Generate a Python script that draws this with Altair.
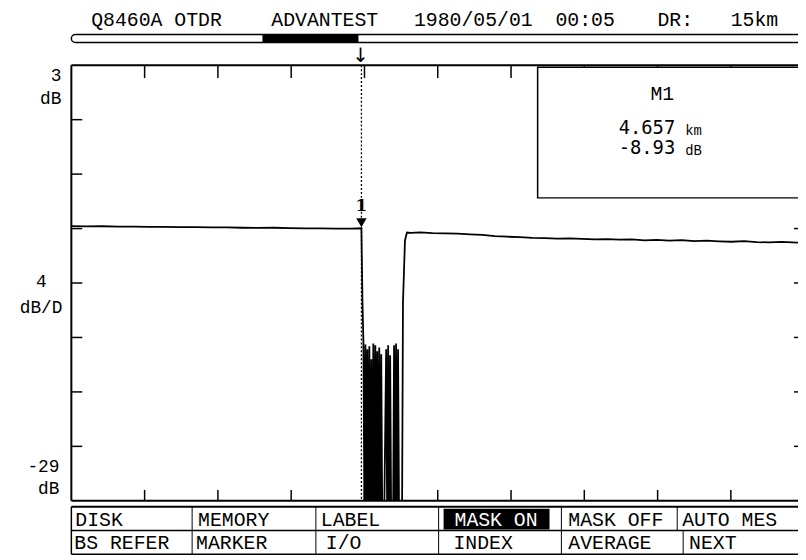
import altair as alt
import pandas as pd

# ---------------- data ----------------
PRE_KM = [0.00, 0.25, 0.50, 0.75, 1.00, 1.25, 1.50, 1.75, 2.00, 2.25, 2.50, 2.75,
          3.00, 3.25, 3.50, 3.75, 4.00, 4.25, 4.50, 4.657]
PRE_DB = [-8.82, -8.84, -8.83, -8.86, -8.85, -8.88, -8.87, -8.90, -8.89, -8.92, -8.91, -8.94,
          -8.95, -8.94, -8.97, -8.99, -8.98, -9.01, -9.00, -8.98]

GAP_KM = [4.673, 4.689, 4.705, 4.721, 4.736, 4.752, 4.768, 4.784, 4.800, 4.816, 4.832,
          4.848, 4.864, 4.880, 4.895, 4.911, 4.927, 4.943, 4.959, 4.975, 4.991, 5.023,
          5.054, 5.070, 5.086, 5.102, 5.118, 5.134, 5.166, 5.181, 5.197, 5.213, 5.229,
          5.245, 5.261, 5.293, 5.309, 5.324, 5.356, 5.388]
GAP_DB = [-14.24, -17.36, -30.0, -17.51, -30.0, -17.87, -30.0, -17.65, -30.0, -18.60, -30.0,
          -17.44, -30.0, -17.58, -30.0, -18.02, -30.0, -17.73, -30.0, -18.24, -30.0, -30.0,
          -17.87, -30.0, -17.58, -30.0, -18.31, -30.0, -30.0, -17.58, -30.0, -17.44, -30.0,
          -17.87, -30.0, -30.0, -30.0, -14.45, -9.87, -9.29]

POST_KM = [5.45, 5.60, 5.80, 6.00, 6.20, 6.40, 6.60, 6.80, 7.00, 7.20, 7.40, 7.60, 7.80,
           8.00, 8.20, 8.40, 8.60, 8.80, 9.00, 9.20, 9.40, 9.60, 9.80, 10.00, 10.20,
           10.40, 10.60, 10.80, 11.00, 11.20, 11.40, 11.67]
POST_DB = [-9.31, -9.28, -9.33, -9.35, -9.38, -9.42, -9.47, -9.55, -9.60, -9.63, -9.68,
           -9.70, -9.74, -9.72, -9.76, -9.80, -9.78, -9.82, -9.80, -9.86, -9.83, -9.88,
           -9.85, -9.92, -9.89, -9.94, -9.97, -9.93, -9.99, -10.02, -9.98, -10.03]

MARKER_KM = [4.657]
MARKER_DB = [-8.93]
MARKER_NAME = ["1"]

X_TICKS_KM = [1.176, 2.353, 3.529, 4.706, 5.882, 7.059, 8.235, 9.412, 10.588]
Y_TICKS_DB = [-25, -21, -17, -13, -9, -5, -1]

HEADER = ["Q8460A OTDR", "ADVANTEST", "1980/05/01", "00:05", "DR:", "15km"]
Y_LABELS = ["3", "dB", "4", "dB/D", "-29", "dB"]
BOX_TEXT = ["M1", "4.657", "km", "-8.93", "dB"]
MENU_ROW1 = ["DISK", "MEMORY", "LABEL", "MASK ON", "MASK OFF", "AUTO MES"]
MENU_ROW2 = ["BS REFER", "MARKER", "I/O", "INDEX", "AVERAGE", "NEXT"]

# ---------------- build ----------------
W, H = 734, 440
MONO = "Liberation Mono"
XS = alt.Scale(domain=[0, 11.666], nice=False, zero=False)
YS = alt.Scale(domain=[-29, 3], nice=False, zero=False)
ONE = pd.DataFrame({"_": [0]})

km = PRE_KM + GAP_KM + POST_KM
db = PRE_DB + GAP_DB + POST_DB
trace_df = pd.DataFrame({"km": km, "db": db, "i": list(range(len(km)))})
marker_df = pd.DataFrame({"km": MARKER_KM, "db": MARKER_DB, "name": MARKER_NAME})

X = lambda: alt.X("km:Q", scale=XS, axis=None)
Y = lambda: alt.Y("db:Q", scale=YS, axis=None)


def rule(x, x2, y, y2, w=1.0, dash=None):
    kw = dict(color="black", strokeWidth=w)
    if dash:
        kw["strokeDash"] = dash
    return alt.Chart(ONE).mark_rule(**kw).encode(
        x=alt.value(x), x2=alt.value(x2), y=alt.value(y), y2=alt.value(y2))


def rect(x, x2, y, y2, fill="white", stroke="black", w=1.5, radius=0):
    kw = dict(fill=fill, strokeWidth=w)
    if stroke:
        kw["stroke"] = stroke
    if radius:
        kw["cornerRadius"] = radius
    return alt.Chart(ONE).mark_rect(**kw).encode(
        x=alt.value(x), x2=alt.value(x2), y=alt.value(y), y2=alt.value(y2))


def label(text, x, y, size=20, align="center", font=MONO, color="black", weight="normal"):
    return alt.Chart(ONE).mark_text(
        text=text, font=font, fontSize=size, align=align, baseline="middle",
        color=color, fontWeight=weight).encode(x=alt.value(x), y=alt.value(y))


layers = []

# frame
layers += [rule(0, W + 10, 0, 0, 2), rule(0, 0, 0, H, 2), rule(0, W + 10, H, H, 2)]

# ticks
xt = pd.DataFrame({"km": X_TICKS_KM})
yt = pd.DataFrame({"db": Y_TICKS_DB})
layers.append(alt.Chart(xt).mark_rule(color="black", strokeWidth=1.5).encode(
    x=X(), y=alt.value(0), y2=alt.value(13)))
layers.append(alt.Chart(xt).mark_rule(color="black", strokeWidth=1.5).encode(
    x=X(), y=alt.value(H - 11), y2=alt.value(H)))
layers.append(alt.Chart(yt).mark_rule(color="black", strokeWidth=1.5).encode(
    y=Y(), x=alt.value(0), x2=alt.value(11)))
layers.append(alt.Chart(yt).mark_rule(color="black", strokeWidth=1.5).encode(
    y=Y(), x=alt.value(W - 4), x2=alt.value(W)))

# trace
layers.append(alt.Chart(trace_df).mark_line(color="black", strokeWidth=1.8, clip=True).encode(
    x=X(), y=Y(), order=alt.Order("i:Q")))

# marker
layers.append(alt.Chart(marker_df).mark_rule(color="black", strokeWidth=1.3, strokeDash=[2, 2]).encode(
    x=X(), y=alt.value(0), y2=alt.value(H)))
layers.append(alt.Chart(marker_df).mark_point(shape="triangle-down", filled=True, color="black",
                                              size=110, opacity=1, yOffset=-5).encode(x=X(), y=Y()))
layers.append(alt.Chart(marker_df).mark_text(font="DejaVu Serif", fontWeight="bold", fontSize=17,
                                             dy=-22, color="black").encode(x=X(), y=Y(), text="name:N"))

# info box
layers.append(rect(471, W + 12, 2, 134))
layers.append(label(BOX_TEXT[0], 597, 29, size=20))
layers.append(label(BOX_TEXT[1], 610, 63, size=19, align="right", font="DejaVu Sans Mono"))
layers.append(label(BOX_TEXT[2], 620, 66, size=14, align="left"))
layers.append(label(BOX_TEXT[3], 610, 84, size=19, align="right", font="DejaVu Sans Mono"))
layers.append(label(BOX_TEXT[4], 620, 87, size=14, align="left"))

# y labels (left)
ylab_pos = [(-10, 11), (-10, 34), (-25, 219), (-9, 245), (-12, 406), (-12, 428)]
for t, (x, y) in zip(Y_LABELS, ylab_pos):
    layers.append(label(t, x, y, size=18, align="right"))

# header
layers.append(rect(0, W + 12, -31, -23, radius=4))
layers.append(rect(193, 290, -31, -23, fill="black", stroke=None))
head_x = [86, 256, 406, 519, 610, 690]
for t, x in zip(HEADER, head_x):
    layers.append(label(t, x, -46, size=20))
layers.append(label("↓", 292, -9, size=20, font="DejaVu Sans"))

# menu
layers += [rule(0, W + 10, 446, 446, 2), rule(0, W + 10, 470, 470, 1.5), rule(0, W + 10, 494, 494, 1.5),
           rule(0, 0, 446, 494, 1.5)]
for x in [122, 247, 371, 495, 612]:
    layers.append(rule(x, x, 446, 470, 1))
for x in [122, 247, 371, 495, 618]:
    layers.append(rule(x, x, 470, 494, 1))
layers.append(rect(376, 483, 448, 469, fill="black", stroke=None))
row1_x = [4, 128, 252, 429, 502, 617]
row2_x = [3, 126, 257, 386, 502, 624]
for i, (t, x) in enumerate(zip(MENU_ROW1, row1_x)):
    if i == 3:
        layers.append(label(t, x, 459, size=20, color="white"))
    else:
        layers.append(label(t, x, 459, size=20, align="left"))
for t, x in zip(MENU_ROW2, row2_x):
    layers.append(label(t, x, 483, size=20, align="left"))

chart = alt.layer(*layers).properties(
    width=W, height=H,
    padding={"left": 64, "top": 55, "right": 0, "bottom": 57},
    autosize=alt.AutoSizeParams(type="none"),
    background="white",
).configure_view(stroke=None)

chart.save("out.html", embed_options={"renderer": "svg", "actions": False})
